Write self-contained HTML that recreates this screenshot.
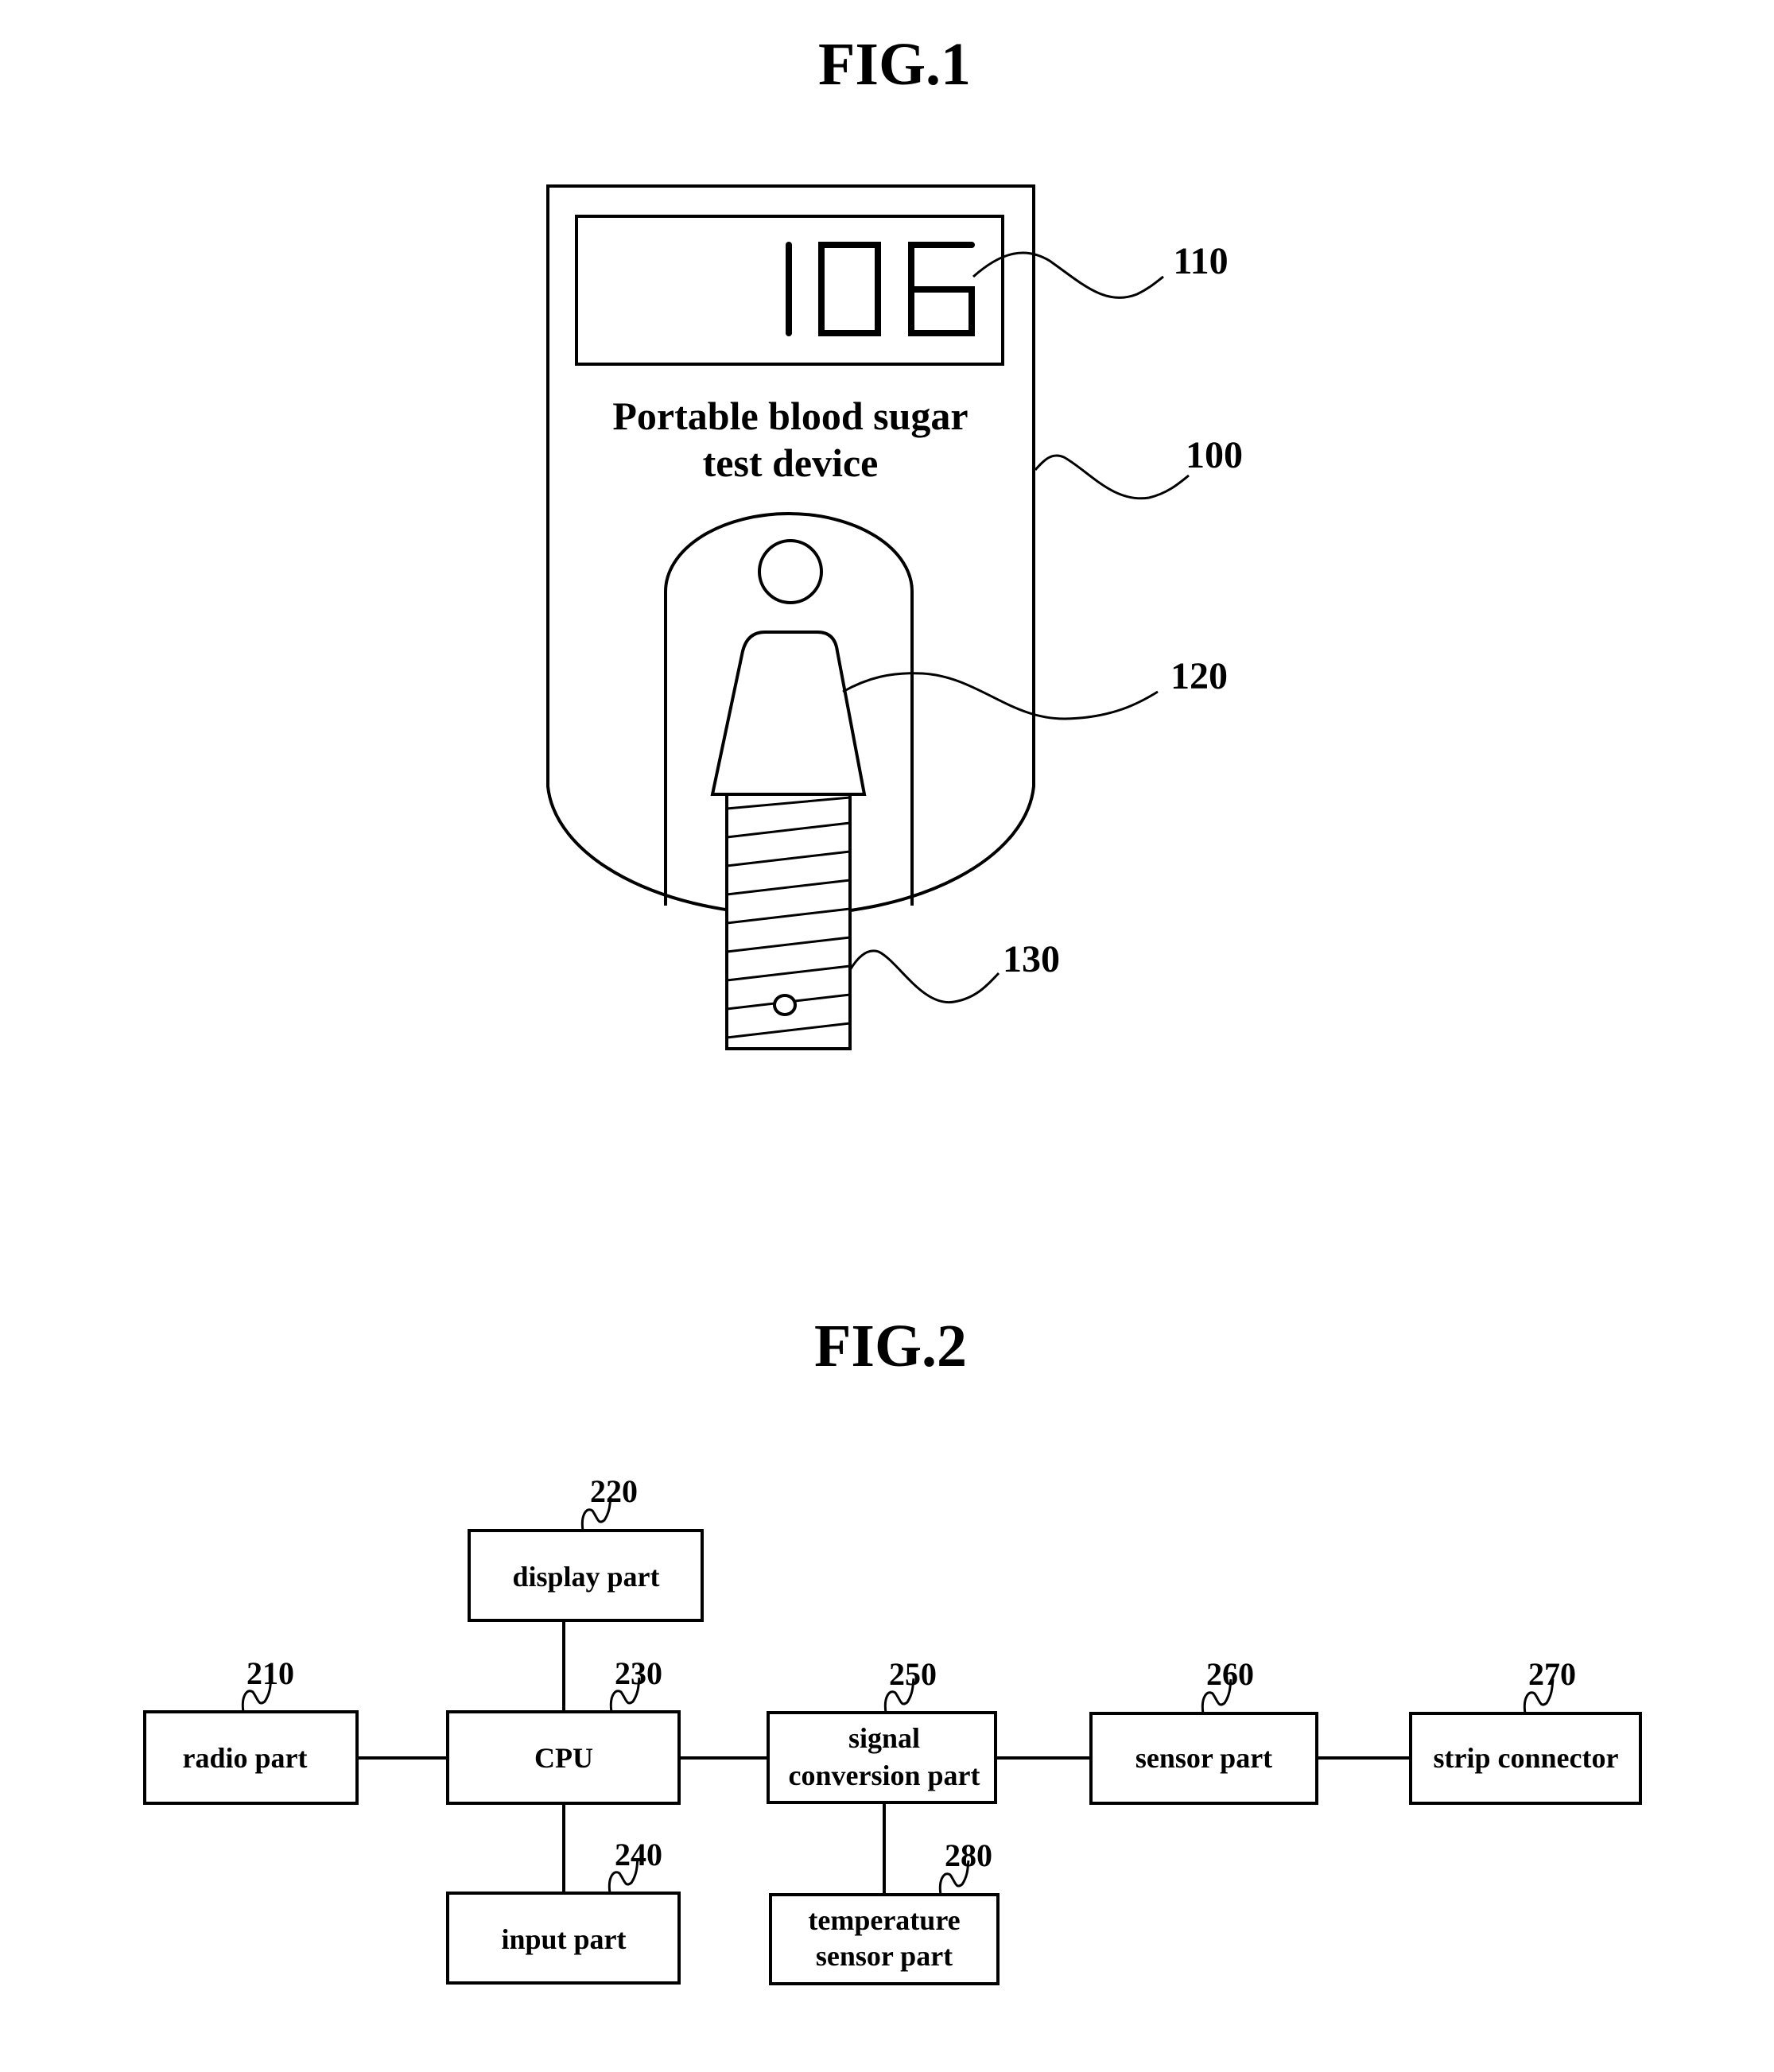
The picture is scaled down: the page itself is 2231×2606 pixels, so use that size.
<!DOCTYPE html>
<html><head><meta charset="utf-8"><style>
html,body{margin:0;padding:0;background:#fff}
svg{display:block}
text{font-family:"Liberation Serif",serif;font-weight:bold;fill:#000}
</style></head><body>
<svg width="2231" height="2606" viewBox="0 0 2231 2606" xmlns="http://www.w3.org/2000/svg">
<g fill="none" stroke="#000" stroke-width="4">
<!-- FIG1 device -->
<path d="M689,234 L1300,234 L1300,989 A306,171 0 0 1 689,989 Z" fill="#fff"/>
<rect x="725" y="272" width="536" height="186"/>
<path d="M837,1139 L837,744 A155,98 0 0 1 1147,744 L1147,1139"/>
<circle cx="994" cy="719" r="39"/>
<path d="M896,999 L934,819 Q940,795 962,795 L1028,795 Q1050,795 1053,819 L1087,999 Z" fill="#fff"/>
<rect x="914" y="999" width="155" height="320" fill="#fff"/>
<g stroke-width="3">
<line x1="914" y1="1017" x2="1069" y2="1003"/>
<line x1="914" y1="1053" x2="1069" y2="1035"/>
<line x1="914" y1="1089" x2="1069" y2="1071"/>
<line x1="914" y1="1125" x2="1069" y2="1107"/>
<line x1="914" y1="1161" x2="1069" y2="1143"/>
<line x1="914" y1="1197" x2="1069" y2="1179"/>
<line x1="914" y1="1233" x2="1069" y2="1215"/>
<line x1="914" y1="1269" x2="1069" y2="1251"/>
<line x1="914" y1="1305" x2="1069" y2="1287"/>
</g>
<ellipse cx="987" cy="1264" rx="13" ry="12" fill="#fff"/>
<!-- digits -->
<g stroke-width="8" stroke-linecap="round">
<line x1="992" y1="308" x2="992" y2="419"/>
<rect x="1033" y="308" width="71" height="111"/>
<path d="M1222,308 L1146,308 L1146,419 L1222,419 L1222,364 L1146,364"/>
</g>
<!-- leaders -->
<g stroke-width="3">
<path d="M1224,348 C1260,316 1290,310 1320,328 C1360,356 1390,386 1430,370 C1445,363 1455,354 1463,348"/>
<path d="M1302,591 C1312,580 1322,568 1338,575 C1370,593 1400,633 1445,626 C1470,620 1485,606 1495,598"/>
<path d="M1060,870 C1090,853 1120,845 1160,847 C1230,851 1270,905 1340,904 C1400,903 1435,883 1456,870"/>
<path d="M1069,1220 C1078,1205 1090,1192 1105,1197 C1130,1209 1160,1267 1200,1260 C1230,1255 1245,1235 1256,1224"/>
</g>
<!-- FIG2 boxes -->
<rect x="590" y="1925" width="293" height="113"/>
<rect x="182" y="2153" width="267" height="115"/>
<rect x="563" y="2153" width="291" height="115"/>
<rect x="966" y="2154" width="286" height="113"/>
<rect x="1372" y="2155" width="284" height="113"/>
<rect x="1774" y="2155" width="289" height="113"/>
<rect x="563" y="2381" width="291" height="113"/>
<rect x="969" y="2383" width="286" height="112"/>
<!-- connectors -->
<line x1="709" y1="2038" x2="709" y2="2153"/>
<line x1="709" y1="2268" x2="709" y2="2381"/>
<line x1="449" y1="2211" x2="563" y2="2211"/>
<line x1="854" y1="2211" x2="966" y2="2211"/>
<line x1="1252" y1="2211" x2="1372" y2="2211"/>
<line x1="1656" y1="2211" x2="1774" y2="2211"/>
<line x1="1112" y1="2267" x2="1112" y2="2383"/>
<!-- squiggles -->
<g stroke-width="3">
<path d="M733,1925 C730,1905 738,1895 745,1900 C752,1910 752,1918 760,1912 C768,1900 767,1888 768,1882"/>
<path d="M306,2153 C303,2133 311,2123 318,2128 C325,2138 325,2146 333,2140 C341,2128 340,2116 341,2110"/>
<path d="M769,2153 C766,2133 774,2123 781,2128 C788,2138 788,2146 796,2140 C804,2128 803,2116 804,2110"/>
<path d="M1114,2154 C1111,2134 1119,2124 1126,2129 C1133,2139 1133,2147 1141,2141 C1149,2129 1148,2117 1149,2111"/>
<path d="M1513,2155 C1510,2135 1518,2125 1525,2130 C1532,2140 1532,2148 1540,2142 C1548,2130 1547,2118 1548,2112"/>
<path d="M1918,2155 C1915,2135 1923,2125 1930,2130 C1937,2140 1937,2148 1945,2142 C1953,2130 1952,2118 1953,2112"/>
<path d="M767,2381 C764,2361 772,2351 779,2356 C786,2366 786,2374 794,2368 C802,2356 801,2344 802,2338"/>
<path d="M1183,2383 C1180,2363 1188,2353 1195,2358 C1202,2368 1202,2376 1210,2370 C1218,2358 1217,2346 1218,2340"/>
</g>
</g>
<text x="1125" y="106" font-size="76" text-anchor="middle">FIG.1</text>
<text x="1120" y="1718" font-size="76" text-anchor="middle">FIG.2</text>
<g font-size="50" text-anchor="middle">
<text x="994" y="540">Portable blood sugar</text>
<text x="994" y="599">test device</text>
</g>
<g font-size="48" text-anchor="middle">
<text x="1510" y="344">110</text>
<text x="1527" y="588">100</text>
<text x="1508" y="866">120</text>
<text x="1297" y="1222">130</text>
</g>
<g font-size="40" text-anchor="middle">
<text x="772" y="1889">220</text>
<text x="340" y="2118">210</text>
<text x="803" y="2118">230</text>
<text x="1148" y="2119">250</text>
<text x="1547" y="2119">260</text>
<text x="1952" y="2119">270</text>
<text x="803" y="2346">240</text>
<text x="1218" y="2347">280</text>
</g>
<g font-size="36" text-anchor="middle">
<text x="737" y="1995">display part</text>
<text x="308" y="2223">radio part</text>
<text x="709" y="2223">CPU</text>
<text x="1112" y="2198">signal</text>
<text x="1112" y="2245">conversion part</text>
<text x="1514" y="2223">sensor part</text>
<text x="1919" y="2223">strip connector</text>
<text x="709" y="2451">input part</text>
<text x="1112" y="2427">temperature</text>
<text x="1112" y="2472">sensor part</text>
</g>
</svg>
</body></html>
